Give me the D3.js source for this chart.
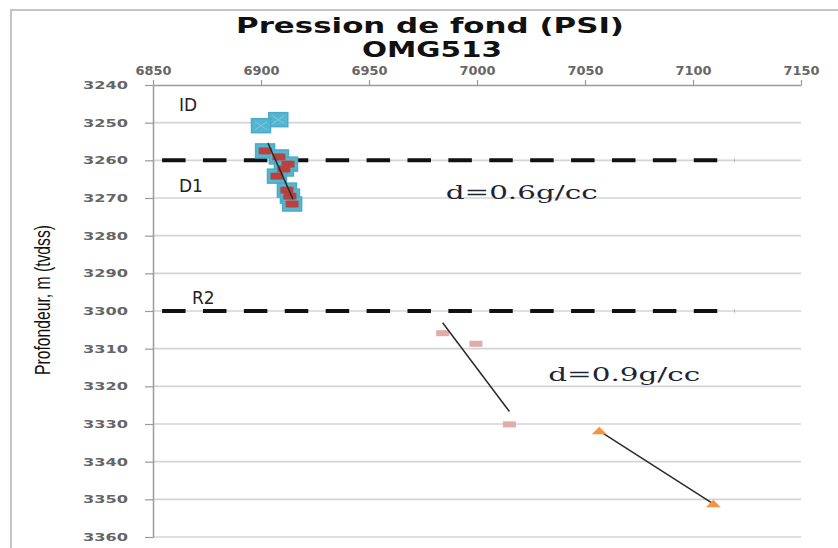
<!DOCTYPE html>
<html>
<head>
<meta charset="utf-8">
<script src="https://cdn.jsdelivr.net/npm/d3@7"></script>
<style>
  html, body { margin: 0; padding: 0; background: #fff; }
  svg { display: block; }
</style>
</head>
<body>
<svg id="chart" width="838" height="548"></svg>
<script>
// Axis ticks
const pressureTicks = [6850, 6900, 6950, 7000, 7050, 7100, 7150];
const depthTicks = [3240, 3250, 3260, 3270, 3280, 3290, 3300, 3310, 3320, 3330, 3340, 3350, 3360];

// Zone ID points (pressure psi, depth m)
const idPressure = [6908, 6900];
const idDepth = [3249.2, 3250.8];

// Zone D1 points
const d1Pressure = [6901.9, 6908.3, 6912.5, 6910.6, 6907.4, 6912.0, 6913.4, 6914.4];
const d1Depth = [3257.5, 3259.1, 3261.0, 3262.3, 3264.2, 3267.9, 3269.5, 3271.6];
// D1 gradient line
const d1TrendPressure = [6903.2, 6914.8];
const d1TrendDepth = [3255.4, 3270.3];

// Zone R2 points and gradient line
const r2Pressure = [6984.1, 6999.5, 7015.0];
const r2Depth = [3305.9, 3308.7, 3330.1];
const r2TrendPressure = [6984.1, 7015.0];
const r2TrendDepth = [3303.1, 3326.7];

// Deeper points joined by a line
const deepPressure = [7056.6, 7109.4];
const deepDepth = [3331.8, 3351.2];

// Zone boundaries (depth) and their pressure extent
const boundaryDepth = [3260, 3300];
const boundaryPressure = [6854.2, 7119.4];

// Zone labels
const zoneNames = ["ID", "D1", "R2"];
const zoneNamePressure = [6862, 6862, 6868];
const zoneNameDepth = [3245.2, 3266.9, 3296.6];
const densityText = ["d=0.6g/cc", "d=0.9g/cc"];
const densityPressure = [6985.5, 7033];
const densityDepth = [3268.4, 3316.9];

const svg = d3.select("#chart");

const x = d3.scaleLinear().domain([6850, 7150]).range([153, 801]);
const y = d3.scaleLinear().domain([3240, 3360]).range([85, 537]);
const fmt = d3.format("d");

// outer frame
svg.append("path")
  .attr("d", "M11,548 L11,10 L838,10")
  .attr("fill", "none").attr("stroke", "#c4c4c4").attr("stroke-width", 2);

// title
svg.append("text").text("Pression de fond (PSI)")
  .attr("x", 236).attr("y", 33)
  .attr("textLength", 388).attr("lengthAdjust", "spacingAndGlyphs")
  .attr("font-family", "DejaVu Sans").attr("font-weight", "bold")
  .attr("font-size", 22).attr("fill", "#111");
svg.append("text").text("OMG513")
  .attr("x", 362).attr("y", 57)
  .attr("textLength", 140).attr("lengthAdjust", "spacingAndGlyphs")
  .attr("font-family", "DejaVu Sans").attr("font-weight", "bold")
  .attr("font-size", 22).attr("fill", "#111");

// horizontal gridlines
svg.append("g").selectAll("line")
  .data(depthTicks.slice(1))
  .join("line")
  .attr("x1", x(6850)).attr("x2", x(7150))
  .attr("y1", d => y(d)).attr("y2", d => y(d))
  .attr("stroke", "#d4d4d4").attr("stroke-width", 1.6);

// top pressure axis
const xAxis = svg.append("g")
  .attr("transform", `translate(0,${y(3240)})`)
  .call(d3.axisTop(x).tickValues(pressureTicks).tickFormat(fmt)
    .tickSize(5).tickSizeOuter(0).tickPadding(6));
xAxis.select(".domain").attr("stroke", "#9a9a9a").attr("stroke-width", 1.5);
xAxis.selectAll(".tick line").attr("stroke", "#9a9a9a").attr("stroke-width", 1.2);
xAxis.selectAll(".tick text")
  .attr("font-family", "DejaVu Sans").attr("font-size", 12).attr("font-weight", "bold")
  .attr("fill", "#666")
  .attr("textLength", 36).attr("lengthAdjust", "spacingAndGlyphs")
  .attr("dy", "0.1em");

// left depth axis
const yAxis = svg.append("g")
  .attr("transform", `translate(${x(6850)},0)`)
  .call(d3.axisLeft(y).tickValues(depthTicks).tickFormat(fmt)
    .tickSize(8).tickSizeOuter(0).tickPadding(17));
yAxis.select(".domain").attr("stroke", "#9a9a9a").attr("stroke-width", 1.5);
yAxis.selectAll(".tick line").attr("stroke", "#9a9a9a").attr("stroke-width", 1.2);
yAxis.selectAll(".tick text")
  .attr("font-family", "DejaVu Sans").attr("font-size", 11).attr("font-weight", "bold")
  .attr("fill", "#666")
  .attr("textLength", 45).attr("lengthAdjust", "spacingAndGlyphs");

// depth axis title
svg.append("text").text("Profondeur, m (tvdss)")
  .attr("transform", "translate(50,300) rotate(-90)")
  .attr("text-anchor", "middle")
  .attr("textLength", 150).attr("lengthAdjust", "spacingAndGlyphs")
  .attr("font-family", "Liberation Sans").attr("font-size", 22)
  .attr("fill", "#111");

// zone boundaries
svg.append("g").selectAll("line")
  .data(boundaryDepth)
  .join("line")
  .attr("x1", x(boundaryPressure[0])).attr("x2", x(boundaryPressure[1]))
  .attr("y1", d => y(d)).attr("y2", d => y(d))
  .attr("stroke", "#111").attr("stroke-width", 4)
  .attr("stroke-dasharray", "23.5,17.4");

// blue markers (ID and D1)
const blue = idPressure.map((p, i) => [p, idDepth[i]])
  .concat(d1Pressure.map((p, i) => [p, d1Depth[i]]));
const bw = 19, bh = 14;
const blueG = svg.append("g");
blueG.selectAll("rect")
  .data(blue)
  .join("rect")
  .attr("x", d => x(d[0]) - bw / 2).attr("y", d => y(d[1]) - bh / 2)
  .attr("width", bw).attr("height", bh)
  .attr("fill", "#56b6d1").attr("stroke", "#48acc8").attr("stroke-width", 1.5);
blueG.selectAll("path")
  .data(blue)
  .join("path")
  .attr("d", d => {
    const cx = x(d[0]), cy = y(d[1]);
    return `M${cx - 6},${cy - 4}L${cx + 6},${cy + 4}M${cx - 6},${cy + 4}L${cx + 6},${cy - 4}`;
  })
  .attr("stroke", "#7ccbe0").attr("stroke-width", 1);

// D1 red markers
svg.append("g").selectAll("rect")
  .data(d1Pressure.map((p, i) => [p, d1Depth[i]]))
  .join("rect")
  .attr("x", d => x(d[0]) - 6.5).attr("y", d => y(d[1]) - 3.5)
  .attr("width", 13).attr("height", 7)
  .attr("fill", "#b8423f");

// R2 pink markers
svg.append("g").selectAll("rect")
  .data(r2Pressure.map((p, i) => [p, r2Depth[i]]))
  .join("rect")
  .attr("x", d => x(d[0]) - 6.5).attr("y", d => y(d[1]) - 3)
  .attr("width", 13).attr("height", 6)
  .attr("fill", "#e2aaa9");

// gradient lines
const line = d3.line().x(d => x(d[0])).y(d => y(d[1]));
[[d1TrendPressure, d1TrendDepth], [r2TrendPressure, r2TrendDepth], [deepPressure, deepDepth]]
  .forEach(([ps, ds]) => {
    svg.append("path")
      .datum(ps.map((p, i) => [p, ds[i]]))
      .attr("d", line)
      .attr("fill", "none").attr("stroke", "#2a2a2a").attr("stroke-width", 1.5);
  });

// orange triangles
svg.append("g").selectAll("path")
  .data(deepPressure.map((p, i) => [p, deepDepth[i]]))
  .join("path")
  .attr("d", d => {
    const cx = x(d[0]), cy = y(d[1]);
    return `M${cx - 7.5},${cy + 3.5}L${cx},${cy - 4}L${cx + 7.5},${cy + 3.5}Z`;
  })
  .attr("fill", "#f7953f");

// zone names
svg.append("g").selectAll("text")
  .data(zoneNames)
  .join("text")
  .text(d => d)
  .attr("x", (d, i) => x(zoneNamePressure[i]))
  .attr("y", (d, i) => y(zoneNameDepth[i]))
  .attr("dy", "0.35em")
  .attr("font-family", "DejaVu Sans").attr("font-size", 17)
  .attr("fill", "#222");

// density annotations
svg.append("g").selectAll("text")
  .data(densityText)
  .join("text")
  .text(d => d)
  .attr("x", (d, i) => x(densityPressure[i]))
  .attr("y", (d, i) => y(densityDepth[i]))
  .attr("dy", "0.35em")
  .attr("textLength", 152).attr("lengthAdjust", "spacingAndGlyphs")
  .attr("font-family", "DejaVu Serif").attr("font-size", 19)
  .attr("fill", "#1d2433");
</script>
</body>
</html>
